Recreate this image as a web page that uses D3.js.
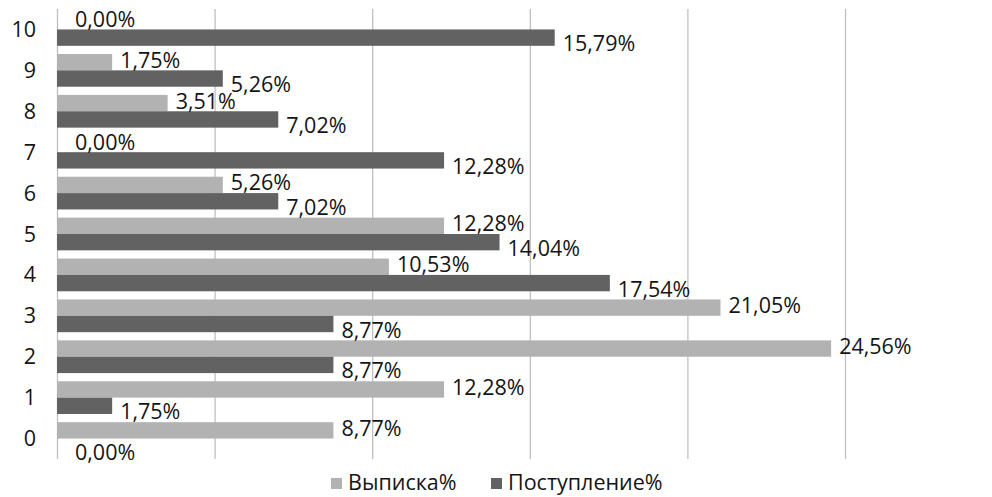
<!DOCTYPE html>
<html>
<head>
<meta charset="utf-8">
<script src="https://cdn.jsdelivr.net/npm/d3@7"></script>
<style>
  body { margin: 0; background: #fff; }
  svg text { font-family: "Open Sans", "Noto Sans", sans-serif; fill: #141414; }
</style>
</head>
<body>
<div id="chart"></div>
<script>
const categories = ['0', '1', '2', '3', '4', '5', '6', '7', '8', '9', '10'];
const seriesNames = ['Выписка%', 'Поступление%'];
const vypiska = [8.77, 12.28, 24.56, 21.05, 10.53, 12.28, 5.26, 0.00, 3.51, 1.75, 0.00];
const postuplenie = [0.00, 1.75, 8.77, 8.77, 17.54, 14.04, 7.02, 12.28, 7.02, 5.26, 15.79];
const gridTicks = [0, 5, 10, 15, 20, 25];
const colors = ['#b2b2b2', '#626262'];

const width = 992, height = 497;
const margin = {top: 9, right: 147, bottom: 38, left: 57};
const fontSize = '21.5px';

const svg = d3.select('#chart')
  .append('svg')
  .attr('width', width)
  .attr('height', height);

const x = d3.scaleLinear()
  .domain([0, 25])
  .range([margin.left, width - margin.right]);

const y = d3.scaleBand()
  .domain(categories.slice().reverse())
  .range([margin.top, height - margin.bottom])
  .paddingInner(0.2)
  .paddingOuter(0.1);

const ySub = d3.scaleBand()
  .domain(seriesNames)
  .range([0, y.bandwidth()]);

// vertical gridlines
svg.append('g')
  .selectAll('line')
  .data(gridTicks)
  .enter()
  .append('line')
  .attr('x1', d => x(d) + 0.5)
  .attr('x2', d => x(d) + 0.5)
  .attr('y1', margin.top)
  .attr('y2', height - margin.bottom)
  .attr('stroke', '#c0c0c0')
  .attr('stroke-width', 1.3);

// category labels
const yAxis = svg.append('g')
  .attr('transform', `translate(${margin.left},0)`)
  .call(d3.axisLeft(y).tickSize(0).tickPadding(21));
yAxis.select('.domain').remove();
yAxis.selectAll('text')
  .style('font-size', fontSize)
  .attr('dy', '0.35em');

const rows = categories.map((c, i) => ({cat: c, vals: [vypiska[i], postuplenie[i]]}));

const groups = svg.append('g')
  .selectAll('g')
  .data(rows)
  .enter()
  .append('g')
  .attr('transform', d => `translate(0,${y(d.cat)})`);

groups.selectAll('rect')
  .data(d => d.vals.map((v, j) => ({name: seriesNames[j], v: v, j: j})))
  .enter()
  .append('rect')
  .attr('x', x(0))
  .attr('y', d => ySub(d.name))
  .attr('width', d => x(d.v) - x(0))
  .attr('height', ySub.bandwidth())
  .attr('fill', d => colors[d.j]);

groups.selectAll('text.lbl')
  .data(d => d.vals.map((v, j) => ({name: seriesNames[j], v: v, j: j})))
  .enter()
  .append('text')
  .attr('class', 'lbl')
  .attr('x', d => x(d.v) + (d.v === 0 ? 18 : 8))
  .attr('y', d => ySub(d.name) + ySub.bandwidth() / 2 + (d.j === 0 ? -2 : 6))
  .attr('dy', '0.35em')
  .style('font-size', fontSize)
  .text(d => d.v.toFixed(2).replace('.', ',') + '%');

// legend
const legend = svg.append('g')
  .attr('transform', `translate(331,${height - 7})`);
const items = legend.selectAll('g')
  .data(seriesNames)
  .enter()
  .append('g')
  .attr('transform', (d, i) => `translate(${i * 160},0)`);
items.append('rect')
  .attr('x', 0)
  .attr('y', -12)
  .attr('width', 11)
  .attr('height', 11)
  .attr('fill', (d, i) => colors[i]);
items.append('text')
  .attr('x', 17)
  .attr('y', 0)
  .style('font-size', fontSize)
  .text(d => d);
</script>
</body>
</html>
